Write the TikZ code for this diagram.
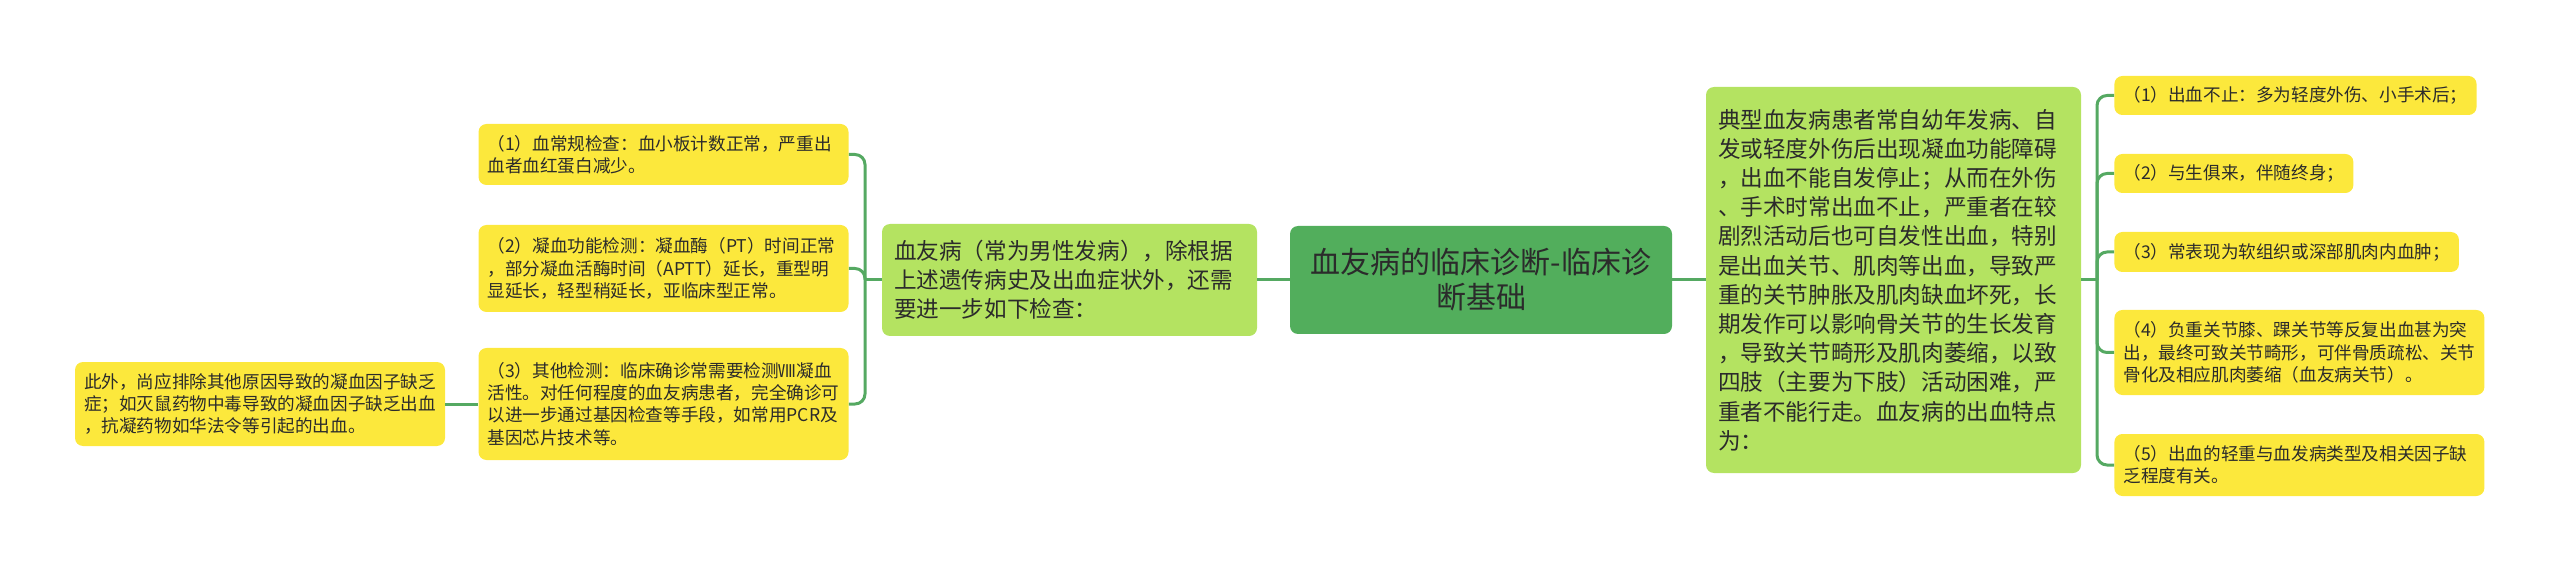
\documentclass[tikz,border=0pt]{standalone}
\usepackage{fontspec}
\setmainfont{Noto Sans CJK SC}
\usepackage{xcolor}
\usepackage{tikz}
\definecolor{ink}{HTML}{2B2B2B}
\definecolor{rootfill}{HTML}{52AE5C}
\definecolor{topicfill}{HTML}{B4E361}
\definecolor{leaffill}{HTML}{FCE83C}
\definecolor{wire}{HTML}{55A962}
\tikzset{
  link/.style={draw=wire, line width=1.5pt, rounded corners=5pt},
  rootbox/.style={fill=rootfill, rounded corners=4pt, text=ink, align=center,
    inner sep=2pt, font=\fontsize{15}{17.5}\selectfont},
  topicbox/.style={fill=topicfill, rounded corners=4pt, text=ink, align=left,
    text width=175.5pt, inner xsep=6pt, inner ysep=3pt, font=\fontsize{11.3}{14.6}\selectfont},
  leaf/.style={fill=leaffill, rounded corners=4pt, text=ink, align=left,
    inner xsep=4.5pt, inner ysep=3pt, font=\fontsize{8.8}{11.15}\selectfont},
  leafwide/.style={leaf, text width=176pt}
}

\begin{document}
\begin{tikzpicture}[x=0.5pt, y=-0.5pt]
  \useasboundingbox (0,0) rectangle (2560,572);

  % centre
  \node[rootbox, minimum width=191pt, minimum height=54pt] (root) at (1481,280)
    {血友病的临床诊断-临床诊\\断基础};

  % left side
  \node[topicbox, minimum height=56pt] (exam) at (1069.5,280)
    {血友病（常为男性发病），除根据\\上述遗传病史及出血症状外，还需\\要进一步如下检查：};
  \coordinate (ltrunk) at (865,280);

  \node[leafwide, minimum height=30.5pt] (cbc) at (663.5,154.5)
    {（1）血常规检查：血小板计数正常，严重出\\血者血红蛋白减少。};
  \node[leafwide, minimum height=43.5pt] (coag) at (663.5,268.5)
    {（2）凝血功能检测：凝血酶（PT）时间正常\\，部分凝血活酶时间（APTT）延长，重型明\\显延长，轻型稍延长，亚临床型正常。};
  \node[leafwide, minimum height=56pt] (other) at (663.5,404)
    {（3）其他检测：临床确诊常需要检测Ⅷ凝血\\活性。对任何程度的血友病患者，完全确诊可\\以进一步通过基因检查等手段，如常用PCR及\\基因芯片技术等。};
  \node[leafwide, minimum height=42pt] (exclude) at (260,404)
    {此外，尚应排除其他原因导致的凝血因子缺乏\\症；如灭鼠药物中毒导致的凝血因子缺乏出血\\，抗凝药物如华法令等引起的出血。};

  % right side
  \node[topicbox, minimum height=193pt] (feature) at (1893.5,280)
    {典型血友病患者常自幼年发病、自\\发或轻度外伤后出现凝血功能障碍\\，出血不能自发停止；从而在外伤\\、手术时常出血不止，严重者在较\\剧烈活动后也可自发性出血，特别\\是出血关节、肌肉等出血，导致严\\重的关节肿胀及肌肉缺血坏死，长\\期发作可以影响骨关节的生长发育\\，导致关节畸形及肌肉萎缩，以致\\四肢（主要为下肢）活动困难，严\\重者不能行走。血友病的出血特点\\为：};
  \coordinate (rtrunk) at (2097,280);

  \node[leaf, anchor=west, minimum height=19.5pt] (f1) at (2114,95.5)
    {（1）出血不止：多为轻度外伤、小手术后；};
  \node[leaf, anchor=west, minimum height=19.5pt] (f2) at (2114,173.5)
    {（2）与生俱来，伴随终身；};
  \node[leaf, anchor=west, minimum height=20pt] (f3) at (2114,252)
    {（3）常表现为软组织或深部肌肉内血肿；};
  \node[leafwide, anchor=west, minimum height=42.5pt] (f4) at (2114,352.5)
    {（4）负重关节膝、踝关节等反复出血甚为突\\出，最终可致关节畸形，可伴骨质疏松、关节\\骨化及相应肌肉萎缩（血友病关节）。};
  \node[leafwide, anchor=west, minimum height=31pt] (f5) at (2114,465)
    {（5）出血的轻重与血发病类型及相关因子缺\\乏程度有关。};

  % connectors
  \draw[link] (root.west) -- (exam.east);
  \draw[link] (exam.west) -- (ltrunk);
  \foreach \nd in {cbc,coag,other}{
    \draw[link] (ltrunk) |- (\nd.east);
  }
  \draw[link] (other.west) -- (exclude.east);

  \draw[link] (root.east) -- (feature.west);
  \draw[link] (feature.east) -- (rtrunk);
  \foreach \nd in {f1,f2,f3,f4,f5}{
    \draw[link] (rtrunk) |- (\nd.west);
  }
\end{tikzpicture}
\end{document}
